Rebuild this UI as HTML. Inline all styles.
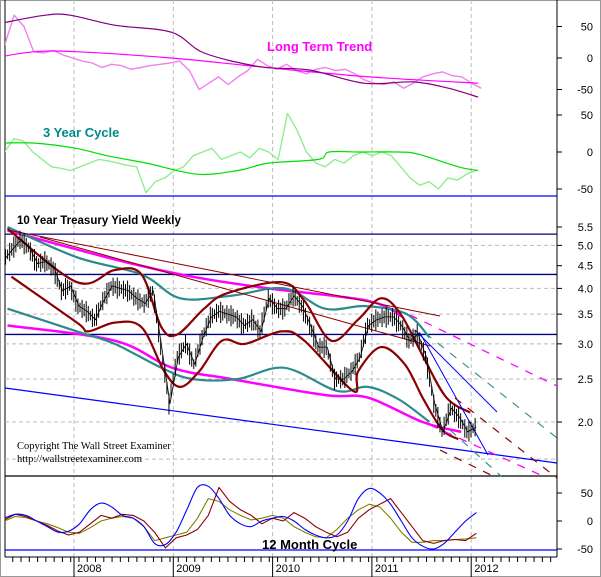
<!DOCTYPE html>
<html><head><meta charset="utf-8"><style>
html,body{margin:0;padding:0;background:#fff;}
svg{display:block;font-family:"Liberation Sans",sans-serif;}
</style></head><body>
<svg id="c" width="601" height="577" viewBox="0 0 601 577"></svg>
<script>
// ---------- DATA ----------
const years = ["2008","2009","2010","2011","2012"];
const yieldStart = 2007.3;
const yieldCloses = [4.65,4.9,5.15,4.95,4.55,4.6,4.45,3.95,4.05,
 3.65,3.55,3.4,3.75,4.05,4.0,3.95,3.8,3.7,3.95,2.95,2.2,
 2.8,3.0,2.7,3.1,3.45,3.55,3.5,3.45,3.3,3.4,3.2,3.8,
 3.6,3.6,3.85,3.65,3.3,2.95,2.95,2.5,2.5,2.6,2.8,3.3,
 3.4,3.45,3.45,3.3,3.05,3.15,2.8,2.2,1.9,2.15,2.05,1.9,1.95];
const bandT = {
 brownUp:[2007.33,2008.03,2008.41,2008.68,2008.88,2009.04,2009.31,2009.54,2010.09,2010.32,2010.59,2010.86,2011.09,2011.29,2011.52,2011.75,2011.99],
 brownLo:[2007.37,2008.03,2008.14,2008.41,2008.68,2008.91,2009.07,2009.26,2009.49,2009.72,2010.09,2010.32,2010.81,2010.86,2011.09,2011.33,2011.52,2011.71,2011.87],
 tealUp:[2007.33,2008.03,2008.68,2009.07,2009.58,2010.12,2010.53,2010.94,2011.35,2011.58],
 tealLo:[2007.33,2008.03,2008.41,2008.88,2009.19,2009.65,2010.12,2010.65,2010.96,2011.27,2011.58],
 magUp:[2007.33,2008.41,2009.19,2009.96,2010.96,2011.31],
 magLo:[2007.33,2008.41,2008.99,2009.58,2010.53,2010.96,2011.51,2011.90]
};
const bandP = {
 brownUp:[5.45,4.13,4.4,4.3,3.27,3.15,3.6,3.9,4.13,3.75,3.05,3.4,3.8,3.5,2.8,2.27,2.1],
 brownLo:[4.25,3.35,3.2,3.35,3.27,2.6,2.4,2.6,3.05,3.0,3.2,3.05,2.35,2.6,2.95,2.7,2.25,1.92,1.83],
 tealUp:[5.5,4.7,4.3,3.8,3.85,4.0,3.6,3.65,3.5,3.1],
 tealLo:[3.6,3.2,3.0,2.65,2.5,2.5,2.65,2.35,2.4,2.25,2.0],
 magUp:[5.4,4.65,4.25,4.0,3.75,3.45],
 magLo:[3.3,3.05,2.65,2.5,2.3,2.27,2.0,1.9]
};
const ltStart = 2007.3, ltStep = 0.098;
const ltNoisy = [20,68,50,10,8,12,5,0,-5,-8,-15,-10,-12,-18,-15,-12,-10,-8,-5,-20,-50,-40,-30,-42,-30,-20,-2,-12,-18,-10,-20,-25,-18,-15,-20,-18,-25,-35,-40,-42,-38,-48,-40,-30,-25,-22,-28,-30,-40,-48];
const ltPurpleT = [2007.26,2007.71,2007.96,2008.41,2008.98,2009.31,2009.88,2010.37,2010.92,2011.42,2011.77,2012.07];
const ltPurple = [55,68,68,52,41,8,-14,-19,-40,-38,-48,-62];
const ltMagT = [2007.26,2007.61,2008.02,2008.98,2009.87,2010.98,2012.07];
const ltMag = [2,10,10,0,-14,-30,-40];
const cyStart = 2007.3, cyStep = 0.095;
const cyNoisy = [0,18,15,0,-10,-20,-22,-25,-20,-15,-10,-12,-15,-18,-20,-55,-40,-35,-25,-20,-5,0,5,-10,-5,0,-8,5,0,-10,52,30,0,-15,-20,-10,-15,-5,0,-5,0,-5,-20,-35,-45,-40,-50,-35,-38,-30,-25];
const cyGreenT = [2007.26,2007.61,2008.02,2008.33,2008.73,2009.24,2009.65,2009.96,2010.46,2010.57,2010.87,2011.27,2011.47,2011.87,2012.07];
const cyGreen = [12,12,5,-5,-15,-30,-25,-15,-10,0,0,0,-3,-20,-25];
const mcStart = 2007.3, mcStep = 0.108;
const mcBlue = [5,12,10,0,-10,-20,-18,-5,20,32,25,10,5,-10,-40,-42,-20,20,60,62,40,10,-5,-10,0,5,8,0,-15,-25,-30,-25,0,40,58,50,30,0,-30,-45,-50,-40,-20,0,15];
const mcRed = [2,12,8,0,-8,-18,-25,-20,-5,10,5,12,10,0,-20,-48,-30,-25,-15,10,60,35,20,10,-5,5,0,15,5,-10,-20,-28,-20,5,20,30,40,15,-10,-35,-40,-35,-33,-35,-22];
const mcOlive = [0,8,6,0,-5,-12,-20,-22,-12,0,5,8,5,-10,-35,-30,-25,-20,5,40,35,20,10,2,5,10,5,-10,-20,-28,-30,-15,5,20,30,25,5,-20,-38,-38,-35,-35,-33,-32,-30];

// ---------- AXES ----------
const svg = document.getElementById('c');
const NS = 'http://www.w3.org/2000/svg';
const X = t => 74 + (t - 2008) * 99.3;
const Yp = p => 227 + 192.8 * Math.log(5.5 / p);
const Ylt = v => 58 - v * 0.63;
const Ycy = v => 152 - v * 0.74;
const Ymc = v => 521 - v * 0.56;
function el(tag, attrs, parent) {
  const e = document.createElementNS(NS, tag);
  for (const k in attrs) e.setAttribute(k, attrs[k]);
  (parent || svg).appendChild(e);
  return e;
}
function txt(s, x, y, attrs) { const e = el('text', Object.assign({x: x, y: y}, attrs)); e.textContent = s; return e; }
function pts(ts, vs, fy) { return ts.map((t, i) => X(t).toFixed(1) + ',' + fy(vs[i]).toFixed(1)).join(' '); }
function smooth(ts, vs, fy) {
  const P = ts.map((t, i) => [X(t), fy(vs[i])]);
  let d = 'M' + P[0][0].toFixed(1) + ',' + P[0][1].toFixed(1);
  for (let i = 0; i < P.length - 1; i++) {
    const p0 = P[i - 1] || P[i], p1 = P[i], p2 = P[i + 1], p3 = P[i + 2] || p2;
    const c1 = [p1[0] + (p2[0] - p0[0]) / 6, p1[1] + (p2[1] - p0[1]) / 6];
    const c2 = [p2[0] - (p3[0] - p1[0]) / 6, p2[1] - (p3[1] - p1[1]) / 6];
    d += ' C' + c1.map(v => v.toFixed(1)).join(',') + ' ' + c2.map(v => v.toFixed(1)).join(',') + ' ' + p2.map(v => v.toFixed(1)).join(',');
  }
  return d;
}
function seqT(start, step, n) { const a = []; for (let i = 0; i < n; i++) a.push(start + i * step); return a; }

const defs = el('defs', {});
const cp = el('clipPath', {id: 'pc'}, defs);
el('rect', {x: 5, y: 0, width: 552, height: 577}, cp);

const frame = el('rect', {x: 0.5, y: 0.5, width: 600, height: 576, fill: 'none', stroke: '#999'});


el('line', {x1: 5, y1: 0, x2: 5, y2: 557, stroke: '#000'});
const rAxis = el('line', {x1: 557, y1: 0, x2: 557, y2: 557, stroke: '#000'});



years.forEach((y, i) => {
  const x = X(2008 + i);
  const g = el('line', {x1: x, y1: 0, x2: x, y2: 557, stroke: '#bbb', 'stroke-dasharray': '4,3'});
  
  
  el('line', {x1: x, y1: 557, x2: x, y2: 577, stroke: '#000'});
  const l = txt(y, x + 3, 572, {'font-size': 11, fill: '#000'});
  
  
});
for (let m = 0; m < 67; m++) {
  const x = X(2007.3 + m / 12);
  if (x > 5 && x < 557) el('line', {x1: x, y1: 557, x2: x, y2: 562, stroke: '#000'});
}
el('line', {x1: 5, y1: 557, x2: 557, y2: 557, stroke: '#000'});

[5.0, 4.0, 3.5, 3.0, 2.5, 2.0, 1.65].forEach(p => {
  el('line', {x1: 5, y1: Yp(p), x2: 557, y2: Yp(p), stroke: '#bbb', 'stroke-dasharray': '4,3'});
});
el('line', {x1: 5, y1: 196, x2: 557, y2: 196, stroke: '#0000ff', 'stroke-width': 1.3});
el('line', {x1: 5, y1: 476, x2: 557, y2: 476, stroke: '#000', 'stroke-width': 1.3});
el('line', {x1: 5, y1: 550, x2: 557, y2: 550, stroke: '#0000ff', 'stroke-width': 1.3});

function rlab(s, y, name) {
  el('line', {x1: 557, y1: y, x2: 562, y2: y, stroke: '#000'});
  const t = txt(s, 593, y + 4, {'font-size': 11, 'text-anchor': 'end', fill: '#000'});
  
  
}
[50, 0, -50].forEach(v => rlab(String(v), Ylt(v), 'lt-tick-label'));
[50, 0, -50].forEach(v => rlab(String(v), Ycy(v), 'cycle-tick-label'));
[5.5, 5.0, 4.5, 4.0, 3.5, 3.0, 2.5, 2.0].forEach(p => rlab(p.toFixed(1), Yp(p), 'yield-tick-label'));
[50, 0, -50].forEach(v => rlab(String(v), Ymc(v), 'month-cycle-tick-label'));

const G = el('g', {'clip-path': 'url(#pc)'});
function line(p, stroke, w, name, dash) {
  const a = {points: p, fill: 'none', stroke: stroke, 'stroke-width': w, 'stroke-linejoin': 'round'};
  if (dash) a['stroke-dasharray'] = dash;
  const e = el('polyline', a, G);
  
  
  return e;
}
function curve(d, stroke, w, name) {
  const e = el('path', {d: d, fill: 'none', stroke: stroke, 'stroke-width': w}, G);
  
  
}
function seg(x1, y1, x2, y2, stroke, w, name, dash) {
  const a = {x1: x1, y1: y1, x2: x2, y2: y2, stroke: stroke, 'stroke-width': w};
  if (dash) a['stroke-dasharray'] = dash;
  const e = el('line', a, G);
  
  
}

line(pts(seqT(ltStart, ltStep, ltNoisy.length), ltNoisy, Ylt), '#f080f0', 1.4, 'long-term-trend-raw');
curve(smooth(ltMagT, ltMag, Ylt), '#ff00ff', 1.2, 'long-term-trend-average');
curve(smooth(ltPurpleT, ltPurple, Ylt), '#800080', 1.2, 'long-term-trend-slow');
line(pts(seqT(cyStart, cyStep, cyNoisy.length), cyNoisy, Ycy), '#90ee90', 1.4, 'three-year-cycle-raw');
curve(smooth(cyGreenT, cyGreen, Ycy), '#00dd00', 1.2, 'three-year-cycle-average');

[5.3, 4.3, 3.15].forEach(p => seg(5, Yp(p), 557, Yp(p), '#000080', 1.3, 'yield-level-line'));
curve(smooth(bandT.magUp, bandP.magUp, Yp), '#ff00ff', 2.5, 'magenta-upper-band');
curve(smooth(bandT.magLo, bandP.magLo, Yp), '#ff00ff', 2.5, 'magenta-lower-band');
curve(smooth(bandT.tealUp, bandP.tealUp, Yp), '#2e8b8b', 2.2, 'teal-upper-band');
curve(smooth(bandT.tealLo, bandP.tealLo, Yp), '#2e8b8b', 2.2, 'teal-lower-band');
curve(smooth(bandT.brownUp, bandP.brownUp, Yp), '#8b0000', 2.2, 'cycle-upper-band');
curve(smooth(bandT.brownLo, bandP.brownLo, Yp), '#8b0000', 2.2, 'cycle-lower-band');
seg(8, 230, 440, 316, '#8b0000', 1, 'downtrend-line-upper');
seg(40, 237, 430, 346, '#8b0000', 1, 'downtrend-line-lower');
seg(5, 388, 557, 463, '#0000ff', 1.2, 'long-support-line');
seg(415, 330, 497, 412, '#0000ff', 1, 'steep-trend-line');
seg(420, 333, 488, 455, '#0000ff', 1, 'steep-trend-line-2');
seg(410, 315, 557, 386, '#ff00ff', 1.3, 'magenta-upper-projection', '8,8');
seg(425, 333, 557, 438, '#2e8b8b', 1.1, 'teal-upper-projection', '8,8');
seg(455, 398, 557, 478, '#8b0000', 1.2, 'cycle-upper-projection', '8,8');
seg(430, 425, 545, 477, '#ff00ff', 1.3, 'magenta-lower-projection', '8,8');
seg(450, 430, 502, 477, '#2e8b8b', 1.1, 'teal-lower-projection', '8,8');
seg(440, 450, 495, 477, '#8b0000', 1.2, 'cycle-lower-projection', '8,8');

const yT = seqT(yieldStart, 1 / 12, yieldCloses.length);
for (let i = 0; i < yieldCloses.length; i++) {
  const prev = i ? yieldCloses[i - 1] : yieldCloses[i];
  for (let k = 0; k < 4; k++) {
    const t = yT[i] - 1 / 12 + (k + 0.5) / 48;
    const c = prev + (yieldCloses[i] - prev) * (k + 1) / 4;
    const amp = 0.025 + 0.03 * ((i * 7 + k * 3) % 5) / 4;
    const b = el('line', {x1: X(t), y1: Yp(c * (1 + amp)), x2: X(t), y2: Yp(c * (1 - amp)), stroke: '#000', 'stroke-width': 1}, G);
    
    
  }
}
line(pts(yT, yieldCloses, Yp), '#000', 0.8, 'yield-close-line');

const mT = seqT(mcStart, mcStep, mcBlue.length);
line(pts(mT, mcOlive, Ymc), '#808000', 1.1, 'month-cycle-signal');
line(pts(mT, mcRed, Ymc), '#8b0000', 1.1, 'month-cycle-raw');
curve(smooth(mT, mcBlue, Ymc), '#0000ff', 1.1, 'month-cycle-smooth');

function title(s, x, y, size, fill, name) {
  const t = txt(s, x, y, {'font-size': size, 'font-weight': 'bold', fill: fill});
  
  
}
title('Long Term Trend', 267, 51, 13, '#ff00ff', 'long-term-trend-title');
title('3 Year Cycle', 43, 137, 13, '#008b8b', 'three-year-cycle-title');
title('10 Year Treasury Yield Weekly', 17, 224, 11.5, '#000', 'yield-chart-title');
title('12  Month Cycle', 262, 549, 13, '#000', 'month-cycle-title');
const c1 = txt('Copyright The Wall Street Examiner', 17, 449, {'font-size': 10.5, 'font-family': '"Liberation Serif",serif', fill: '#000'});


const c2 = txt('http://wallstreetexaminer.com', 17, 462, {'font-size': 10.5, 'font-family': '"Liberation Serif",serif', fill: '#000'});


</script>
</body></html>
